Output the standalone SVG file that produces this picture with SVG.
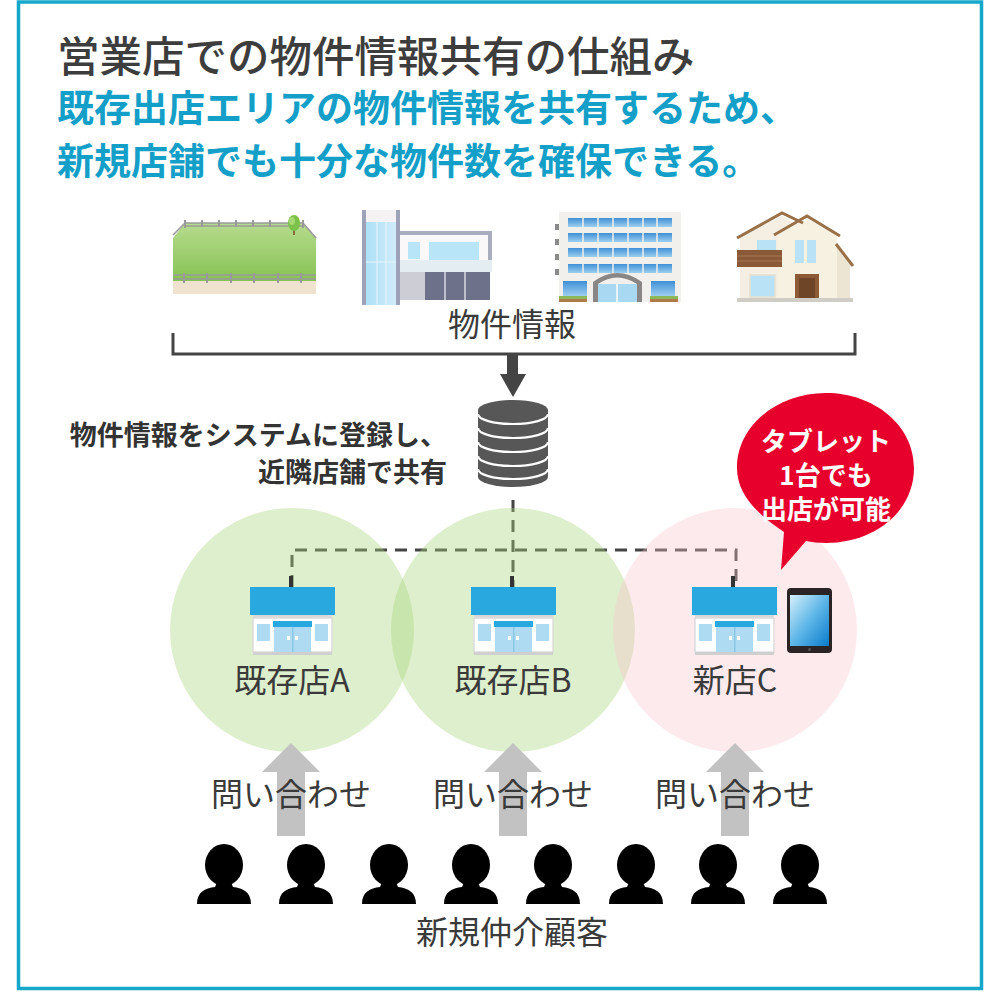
<svg xmlns="http://www.w3.org/2000/svg" width="987" height="994" viewBox="0 0 987 994">
  <style>
    .jp { font-family: "Noto Sans CJK JP", "Noto Sans", sans-serif; }
    .title { font-size: 42.5px; fill: #3d3d3d; font-weight: 500; }
    .lead { font-size: 37px; fill: #149fc8; font-weight: 700; }
    .label { font-size: 32px; fill: #3a3a3a; }
    .note { font-size: 27px; fill: #333; font-weight: 700; }
    .bubble-text { font-size: 26px; fill: #fff; font-weight: 700; }
    .area-green { fill: #a9d57b; fill-opacity: 0.38; }
    .area-pink { fill: #f9c3cb; fill-opacity: 0.35; }
    .link { fill: none; stroke: #444; stroke-width: 3; stroke-dasharray: 12 8; }
    .up-arrow { fill: #c2c2c2; }
    .person { fill: #000; }
    .roof { fill: #29a8e0; }
    .shopbody { fill: #fff; stroke: #dcdcdc; stroke-width: 1.5; }
    .glass { fill: #aedbf1; }
  </style>
  <defs>
    <linearGradient id="grass" x1="0" y1="0" x2="0" y2="1">
      <stop offset="0" stop-color="#b6db8e"/>
      <stop offset="1" stop-color="#86c253"/>
    </linearGradient>
    <linearGradient id="towerGlass" x1="0" y1="0" x2="1" y2="0">
      <stop offset="0" stop-color="#a9def6"/>
      <stop offset="1" stop-color="#d4eefa"/>
    </linearGradient>
    <linearGradient id="screen" x1="0" y1="0" x2="1" y2="1">
      <stop offset="0" stop-color="#d6f0fb"/>
      <stop offset="0.5" stop-color="#5fb7e8"/>
      <stop offset="1" stop-color="#0a7ccb"/>
    </linearGradient>
    <linearGradient id="aptWin" x1="0" y1="0" x2="0" y2="1">
      <stop offset="0" stop-color="#3f8fd6"/>
      <stop offset="1" stop-color="#9dcff0"/>
    </linearGradient>
    <!-- shop front, origin at top-left of the roof -->
    <g id="shop">
      <rect x="39" y="-11" width="4" height="11" fill="#333"/>
      <rect class="roof" x="0" y="0" width="85" height="28"/>
      <rect x="3" y="28" width="79" height="3" fill="#d8d8d8"/>
      <rect class="shopbody" x="3" y="31" width="79" height="34"/>
      <rect x="23" y="34" width="39" height="6" fill="#29a8e0"/>
      <rect class="glass" x="24" y="40" width="37" height="25"/>
      <rect x="42" y="40" width="1.5" height="25" fill="#8cc7e6"/>
      <rect x="37" y="49" width="3" height="4" fill="#fff"/>
      <rect x="45" y="49" width="3" height="4" fill="#fff"/>
      <rect class="glass" x="7" y="37" width="13" height="17"/>
      <rect class="glass" x="65" y="37" width="13" height="17"/>
      <rect x="3" y="65" width="79" height="3" fill="#cfcfcf"/>
    </g>
    <!-- customer silhouette, origin at top-centre of the head -->
    <g id="person">
      <ellipse class="person" cx="0" cy="20" rx="19" ry="21"/>
      <path class="person" d="M-27,59 C-27,47 -19,43 -9,42 L-6,35 L6,35 L9,42 C19,43 27,47 27,59 Z"/>
    </g>
    <!-- upward enquiry arrow, origin at the tip -->
    <path id="upArrow" class="up-arrow" d="M0,0 L29,29 L14,29 L14,93 L-14,93 L-14,29 L-29,29 Z"/>
  </defs>

  <rect x="0" y="0" width="987" height="994" fill="#fff"/>
  <rect x="18.5" y="2" width="963" height="986.5" fill="none" stroke="#16a7cb" stroke-width="3.5"/>

  <!-- headings -->
  <g id="heading">
    <text class="jp title" x="57" y="72">営業店での物件情報共有の仕組み</text>
    <text class="jp lead" x="57" y="122">既存出店エリアの物件情報を共有するため、</text>
    <text class="jp lead" x="57" y="175">新規店舗でも十分な物件数を確保できる。</text>
  </g>

  <!-- property illustrations -->
  <g id="property-land">
    <polygon points="185,223 303,223 316,238 316,282 173,282 173,238" fill="url(#grass)"/>
    <rect x="173" y="281" width="143" height="13" fill="#efe2cf"/>
    <g stroke="#9a9a9a" stroke-width="1.6" fill="none">
      <line x1="185" y1="223" x2="303" y2="223"/>
      <line x1="185" y1="226" x2="303" y2="226"/>
      <line x1="185" y1="223" x2="173" y2="235"/>
      <line x1="303" y1="223" x2="316" y2="238"/>
      <line x1="173" y1="275" x2="316" y2="275"/>
      <line x1="173" y1="279" x2="316" y2="279"/>
    </g>
    <g stroke="#9a9a9a" stroke-width="2">
      <line x1="185" y1="220" x2="185" y2="228"/><line x1="202" y1="220" x2="202" y2="227"/>
      <line x1="219" y1="220" x2="219" y2="227"/><line x1="236" y1="220" x2="236" y2="227"/>
      <line x1="253" y1="220" x2="253" y2="227"/><line x1="270" y1="220" x2="270" y2="227"/>
      <line x1="303" y1="220" x2="303" y2="228"/>
      <line x1="184" y1="273" x2="184" y2="283"/><line x1="207" y1="273" x2="207" y2="283"/>
      <line x1="231" y1="273" x2="231" y2="283"/><line x1="254" y1="273" x2="254" y2="283"/>
      <line x1="278" y1="273" x2="278" y2="283"/><line x1="301" y1="273" x2="301" y2="283"/>
    </g>
    <rect x="293" y="228" width="2" height="7" fill="#8a6a3a"/>
    <ellipse cx="294" cy="223" rx="6" ry="8" fill="#7cc24a"/>
    <ellipse cx="292" cy="221" rx="3" ry="4" fill="#a6d874"/>
  </g>

  <g id="property-office">
    <rect x="362" y="210" width="38" height="95" fill="url(#towerGlass)"/>
    <rect x="366" y="210" width="30" height="12" fill="#f4f2f2"/>
    <rect x="362" y="210" width="4" height="95" fill="#9ea2b8"/>
    <rect x="396" y="210" width="4" height="95" fill="#9ea2b8"/>
    <line x1="377" y1="222" x2="377" y2="305" stroke="#e6f4fb" stroke-width="1"/>
    <line x1="386" y1="222" x2="386" y2="305" stroke="#e6f4fb" stroke-width="1"/>
    <line x1="366" y1="262" x2="396" y2="262" stroke="#e6f4fb" stroke-width="1"/>
    <rect x="400" y="231" width="92" height="4" fill="#a9adc0"/>
    <rect x="488" y="231" width="4" height="40" fill="#a9adc0"/>
    <rect x="400" y="235" width="88" height="36" fill="#faf8f8"/>
    <rect x="408" y="242" width="12" height="17" fill="#b8e6f8"/>
    <rect x="429" y="242" width="50" height="20" fill="#b8e6f8"/>
    <rect x="400" y="260" width="92" height="12" fill="#e4eef2"/>
    <rect x="400" y="272" width="25" height="28" fill="#cdcdd6"/>
    <rect x="425" y="272" width="65" height="28" fill="#6e718a"/>
    <line x1="445" y1="272" x2="445" y2="300" stroke="#d8d8e0" stroke-width="1.5"/>
    <line x1="465" y1="272" x2="465" y2="300" stroke="#d8d8e0" stroke-width="1.5"/>
  </g>

  <g id="property-apartment">
    <rect x="559" y="212" width="122" height="90" fill="#f2f0ed"/>
    <g fill="#8a8a8a">
      <rect x="555" y="224" width="4" height="6"/><rect x="555" y="239" width="4" height="6"/>
      <rect x="555" y="254" width="4" height="6"/><rect x="555" y="269" width="4" height="6"/>
    </g>
    <g fill="url(#aptWin)">
      <rect x="568" y="218" width="104" height="9"/>
      <rect x="568" y="233" width="104" height="9"/>
      <rect x="568" y="248" width="104" height="9"/>
      <rect x="568" y="264" width="104" height="9"/>
      <rect x="563" y="281" width="24" height="15"/>
      <rect x="651" y="281" width="24" height="15"/>
    </g>
    <g stroke="#f2f0ed" stroke-width="1.5">
      <line x1="583" y1="216" x2="583" y2="274"/><line x1="598" y1="216" x2="598" y2="274"/>
      <line x1="613" y1="216" x2="613" y2="274"/><line x1="628" y1="216" x2="628" y2="274"/>
      <line x1="643" y1="216" x2="643" y2="274"/><line x1="657" y1="216" x2="657" y2="274"/>
    </g>
    <path d="M593,302 L593,282 Q617,264 642,282 L642,302 L637,302 L637,284 Q617,271 598,284 L598,302 Z" fill="#8a8686"/>
    <rect x="598" y="284" width="39" height="18" fill="#a9d8f2"/>
    <line x1="617" y1="284" x2="617" y2="302" stroke="#e8f4fa" stroke-width="2"/>
    <rect x="559" y="296" width="28" height="6" fill="#8cb85a"/>
    <rect x="650" y="296" width="28" height="6" fill="#8cb85a"/>
    <rect x="559" y="299" width="28" height="3" fill="#b07a4a"/>
    <rect x="650" y="299" width="28" height="3" fill="#b07a4a"/>
  </g>

  <g id="property-house">
    <polygon points="740,236 782,216 800,226 800,300 740,300" fill="#f4efe2"/>
    <polygon points="778,234 807,219 837,234 837,300 778,300" fill="#f7f1e2"/>
    <polygon points="837,246 850,264 850,300 837,300" fill="#ece5d4"/>
    <polyline points="737,238 782,213 803,223" fill="none" stroke="#9a7048" stroke-width="3"/>
    <polyline points="774,235 807,216 840,236" fill="none" stroke="#9a7048" stroke-width="3"/>
    <line x1="836" y1="244" x2="853" y2="266" stroke="#9a7048" stroke-width="3"/>
    <rect x="757" y="240" width="19" height="10" fill="#b9e2f6"/>
    <rect x="737" y="250" width="45" height="17" fill="#8a5a38"/>
    <line x1="737" y1="256" x2="782" y2="256" stroke="#a5754e" stroke-width="1.2"/>
    <line x1="737" y1="261" x2="782" y2="261" stroke="#a5754e" stroke-width="1.2"/>
    <rect x="795" y="240" width="9" height="23" fill="#b9e2f6"/>
    <rect x="807" y="240" width="9" height="23" fill="#b9e2f6"/>
    <rect x="750" y="275" width="25" height="22" fill="#b9e2f6" stroke="#e6e0d0" stroke-width="1.5"/>
    <rect x="795" y="274" width="24" height="26" fill="#8c5a34"/>
    <rect x="799" y="278" width="16" height="22" fill="#6f4527"/>
    <rect x="737" y="298" width="116" height="4" fill="#cfcdc6"/>
  </g>

  <text class="jp label" x="512" y="336" text-anchor="middle">物件情報</text>

  <!-- connectors -->
  <g id="connectors">
    <polyline points="173,333 173,354 855,354 855,333" fill="none" stroke="#444" stroke-width="3"/>
    <rect x="507" y="354" width="11" height="22" fill="#444"/>
    <polygon points="500,374 526,374 513,397" fill="#444"/>
    <polyline class="link" points="292,587 292,550 736,550 736,587"/>
    <line class="link" x1="513" y1="500" x2="513" y2="587"/>
  </g>

  <!-- database -->
  <g id="database">
    <path d="M478,410 L478,477 A35,10 0 0 0 548,477 L548,410 Z" fill="#575757"/>
    <ellipse cx="513" cy="410" rx="35" ry="10" fill="#575757"/>
    <g fill="none" stroke="#fff" stroke-width="2.2">
      <path d="M478,414 A35,10 0 0 0 548,414"/>
      <path d="M478,428 A35,10 0 0 0 548,428"/>
      <path d="M478,442 A35,10 0 0 0 548,442"/>
      <path d="M478,456 A35,10 0 0 0 548,456"/>
      <path d="M478,469 A35,10 0 0 0 548,469"/>
    </g>
  </g>

  <g id="note">
    <text class="jp note" x="447" y="445" text-anchor="end">物件情報をシステムに登録し、</text>
    <text class="jp note" x="447" y="482" text-anchor="end">近隣店舗で共有</text>
  </g>

  <!-- store areas -->
  <g id="area-a"><circle class="area-green" cx="292" cy="630" r="122"/></g>
  <g id="area-b"><circle class="area-green" cx="513" cy="630" r="122"/></g>
  <g id="area-c"><circle class="area-pink" cx="735" cy="630" r="122"/></g>

  <g id="store-a">
    <use href="#shop" x="250" y="587"/>
    <text class="jp label" x="292" y="692" text-anchor="middle">既存店A</text>
  </g>
  <g id="store-b">
    <use href="#shop" x="471" y="587"/>
    <text class="jp label" x="513" y="692" text-anchor="middle">既存店B</text>
  </g>
  <g id="store-c">
    <use href="#shop" x="692" y="587"/>
    <text class="jp label" x="735" y="692" text-anchor="middle">新店C</text>
  </g>

  <g id="tablet">
    <rect x="787" y="588" width="45" height="65" rx="4" fill="#2a2424"/>
    <rect x="790" y="595" width="39" height="51" fill="url(#screen)"/>
    <circle cx="809.5" cy="649.5" r="1.5" fill="#555"/>
  </g>

  <g id="bubble">
    <path d="M784,532 C760,516 737,496 737,468 C737,425 778,393 826,393 C874,393 914,425 914,468 C914,512 874,543 826,543 C818,543 812,542 806,541 L781,570 Z" fill="#e8002d"/>
    <text class="jp bubble-text" x="826" y="451" text-anchor="middle">タブレット</text>
    <text class="jp bubble-text" x="826" y="485" text-anchor="middle">1台でも</text>
    <text class="jp bubble-text" x="826" y="519" text-anchor="middle">出店が可能</text>
  </g>

  <!-- enquiries -->
  <g id="enquiry-a">
    <use href="#upArrow" x="291" y="743"/>
    <text class="jp label" x="291" y="806" text-anchor="middle">問い合わせ</text>
  </g>
  <g id="enquiry-b">
    <use href="#upArrow" x="513" y="743"/>
    <text class="jp label" x="513" y="806" text-anchor="middle">問い合わせ</text>
  </g>
  <g id="enquiry-c">
    <use href="#upArrow" x="735" y="743"/>
    <text class="jp label" x="735" y="806" text-anchor="middle">問い合わせ</text>
  </g>

  <!-- customers -->
  <g id="customers">
    <use href="#person" x="224" y="845"/>
    <use href="#person" x="306" y="845"/>
    <use href="#person" x="389" y="845"/>
    <use href="#person" x="471" y="845"/>
    <use href="#person" x="553" y="845"/>
    <use href="#person" x="636" y="845"/>
    <use href="#person" x="718" y="845"/>
    <use href="#person" x="800" y="845"/>
    <text class="jp label" x="512" y="944" text-anchor="middle">新規仲介顧客</text>
  </g>
</svg>
